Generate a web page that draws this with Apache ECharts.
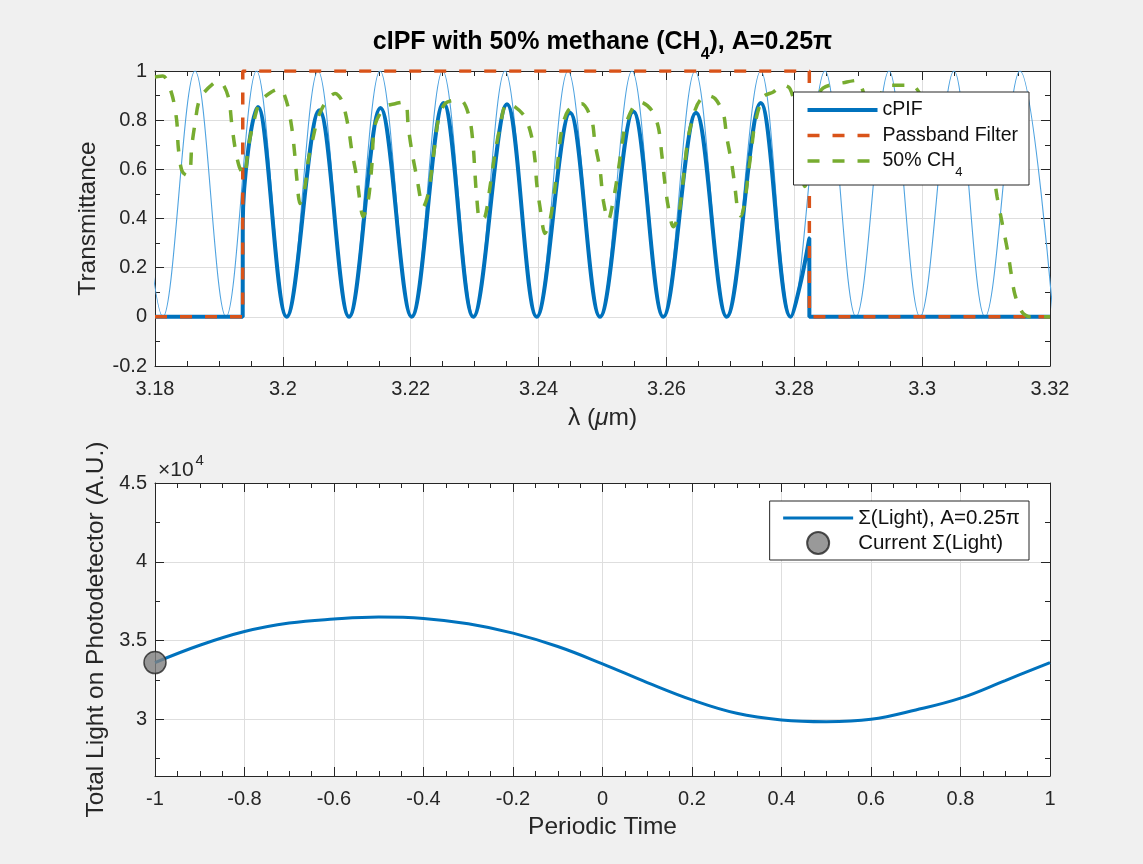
<!DOCTYPE html>
<html><head><meta charset="utf-8">
<script src="https://cdn.jsdelivr.net/npm/echarts@6/dist/echarts.min.js"></script>
<style>html,body{margin:0;padding:0;background:#f0f0f0}#c{width:1143px;height:864px}</style>
</head><body><div id="c"></div>
<script>
// ---------- Top plot data ----------
// thin interference comb (peaks/troughs)
const combLambda = [3.17666,3.18125,3.18626,3.19111,3.19588,3.20065,3.20550,3.21035,3.21520,3.22015,3.22500,3.22990,3.23475,3.23971,3.24460,3.24961,3.25461,3.25951,3.26447,3.26943,3.27475,3.27949,3.28480,3.28965,3.29482,3.29967,3.30498,3.30983,3.31531,3.32050];
const combT      = [1,0,1,0,1,0,1,0,1,0,1,0,1,0,1,0,1,0,1,0,1,0,1,0,1,0,1,0,1,0];
// cPIF (thick)
const cpifLambda = [3.18,3.19372,3.19373,3.19611,3.20060,3.20570,3.21035,3.21527,3.22015,3.22513,3.22979,3.23506,3.23971,3.24492,3.24961,3.25482,3.25951,3.26463,3.26943,3.27475,3.27944,3.28100,3.28235,3.28236,3.32];
const cpifT      = [0,0,0.38,0.854,0,0.84,0,0.85,0,0.87,0,0.865,0,0.83,0,0.835,0,0.83,0,0.87,0,0.14,0.32,0,0];
// passband filter
const passLambda = [3.18,3.19372,3.19373,3.28235,3.28236,3.32];
const passT      = [0,0,1,1,0,0];
// 50% CH4 transmittance
const ch4Lambda = [3.18000,3.18125,3.18261,3.18339,3.18364,3.18418,3.18496,3.18547,3.18574,3.18626,3.18704,3.18912,3.19017,3.19147,3.19200,3.19251,3.19319,3.19397,3.19459,3.19538,3.19642,3.19825,3.19955,3.20060,3.20138,3.20190,3.20216,3.20268,3.20346,3.20398,3.20476,3.20554,3.20686,3.20816,3.20920,3.21024,3.21077,3.21155,3.21258,3.21336,3.21390,3.21441,3.21598,3.21754,3.21911,3.21962,3.22015,3.22094,3.22197,3.22275,3.22328,3.22380,3.22431,3.22536,3.22693,3.22822,3.22927,3.22979,3.23005,3.23032,3.23084,3.23162,3.23240,3.23318,3.23396,3.23501,3.23631,3.23788,3.23892,3.23944,3.23971,3.24022,3.24100,3.24179,3.24257,3.24309,3.24362,3.24465,3.24675,3.24831,3.24883,3.24961,3.25012,3.25091,3.25169,3.25247,3.25300,3.25352,3.25482,3.25586,3.25769,3.25873,3.25926,3.25977,3.26029,3.26107,3.26185,3.26239,3.26290,3.26342,3.26447,3.26525,3.26630,3.26760,3.26890,3.26943,3.27021,3.27072,3.27119,3.27166,3.27229,3.27281,3.27334,3.27385,3.27515,3.27672,3.27828,3.27933,3.28011,3.28089,3.28167,3.28246,3.28324,3.28449,3.28820,3.28981,3.29184,3.29513,3.29836,3.30123,3.30592,3.30983,3.31171,3.31249,3.31343,3.31390,3.31452,3.31562,3.31687,3.32000];
const ch4T      = [0.976,0.98,0.908,0.80,0.69,0.596,0.576,0.59,0.69,0.786,0.888,0.949,0.955,0.894,0.786,0.69,0.61,0.576,0.69,0.786,0.874,0.915,0.928,0.874,0.772,0.65,0.569,0.461,0.528,0.637,0.732,0.813,0.881,0.908,0.881,0.772,0.678,0.569,0.407,0.474,0.61,0.78,0.854,0.867,0.874,0.772,0.678,0.569,0.447,0.502,0.596,0.705,0.80,0.867,0.881,0.874,0.80,0.69,0.583,0.488,0.393,0.407,0.528,0.664,0.772,0.867,0.854,0.813,0.732,0.637,0.542,0.447,0.339,0.393,0.528,0.65,0.759,0.84,0.867,0.80,0.705,0.60,0.474,0.393,0.474,0.596,0.69,0.772,0.854,0.874,0.84,0.772,0.664,0.542,0.447,0.366,0.407,0.502,0.624,0.732,0.84,0.881,0.901,0.888,0.827,0.732,0.624,0.528,0.43,0.41,0.474,0.583,0.69,0.786,0.894,0.915,0.942,0.928,0.85,0.62,0.53,0.62,0.85,0.93,0.955,0.962,0.86,0.942,0.942,0.86,0.86,0.78,0.49,0.385,0.26,0.18,0.09,0.02,0.0,0.0];

// ---------- Bottom plot data ----------
const periodicTime = [-1,-0.9,-0.8,-0.7,-0.6,-0.5,-0.4,-0.3,-0.2,-0.1,0,0.1,0.2,0.3,0.4,0.5,0.6,0.7,0.8,0.9,1];
const totalLight   = [33600,34700,35570,36110,36360,36490,36400,36060,35470,34620,33520,32330,31230,30380,29960,29850,30000,30590,31340,32460,33600];
const currentPoint = [-1, 33600];

const zip = (a, b) => a.map((v, i) => [v, b[i]]);

const FONT = 'Liberation Sans, Arial, Helvetica, sans-serif';
const AX = '#262626';
const GRIDC = '#dedede';
const TICKFS = 20;
const NAMEFS = 24.5;

function mkX(grid, min, max, interval, pos, minorSplit, extra) {
  return Object.assign({
    type: 'value', gridIndex: grid, min, max, interval, position: pos,
    axisLine: { show: true, onZero: false, lineStyle: { color: AX, width: 1 } },
    axisTick: { show: true, inside: true, length: 9, lineStyle: { color: AX } },
    minorTick: { show: true, splitNumber: minorSplit, length: 5, lineStyle: { color: AX } },
    axisLabel: { show: pos === 'bottom', fontSize: TICKFS, color: AX, margin: 13, fontFamily: FONT },
    splitLine: { show: pos === 'bottom', lineStyle: { color: GRIDC, width: 1 } },
    minorSplitLine: { show: false }
  }, extra || {});
}
function mkY(grid, min, max, pos, minorSplit, extra) {
  return Object.assign({
    type: 'value', gridIndex: grid, min, max, position: pos,
    axisLine: { show: true, onZero: false, lineStyle: { color: AX, width: 1 } },
    axisTick: { show: true, inside: true, length: 9, lineStyle: { color: AX } },
    minorTick: { show: true, splitNumber: minorSplit, length: 5, lineStyle: { color: AX } },
    axisLabel: { show: pos === 'left', fontSize: TICKFS, color: AX, margin: 8, fontFamily: FONT },
    splitLine: { show: pos === 'left', lineStyle: { color: GRIDC, width: 1 } }
  }, extra || {});
}

const chart = echarts.init(document.getElementById('c'), null, { renderer: 'canvas' });
const dash = [12, 13];
const noSym = { opacity: 0 };

const option = {
  backgroundColor: '#f0f0f0',
  animation: false,
  textStyle: { fontFamily: FONT },
  title: [{
    text: '×10{sup|4}', left: 158, top: 453, padding: 0,
    textStyle: { fontSize: 21, fontWeight: 'normal', color: AX, lineHeight: 34, fontFamily: FONT,
      rich: { sup: { fontSize: 15, verticalAlign: 'top', color: AX, fontFamily: FONT, padding: [0, 0, 0, 2] } } }
  }],
  grid: [
    { left: 155, top: 71, width: 895, height: 295, show: true, backgroundColor: '#ffffff', borderWidth: 0 },
    { left: 155, top: 483, width: 895, height: 293, show: true, backgroundColor: '#ffffff', borderWidth: 0 }
  ],
  xAxis: [
    mkX(0, 3.18, 3.32, 0.02, 'bottom', 4, {
      name: 'λ ({i|μ}m)', nameLocation: 'middle', nameGap: 39.5,
      nameTextStyle: { fontSize: NAMEFS, color: AX, fontFamily: FONT,
        rich: { i: { fontSize: NAMEFS, fontStyle: 'italic', color: AX, fontFamily: FONT } } }
    }),
    mkX(0, 3.18, 3.32, 0.02, 'top', 4, {
      name: 'cIPF with 50% methane (CH{sub|4}), A=0.25π', nameLocation: 'middle', nameGap: 8,
      nameTextStyle: { fontSize: 25, fontWeight: 'bold', color: '#000', lineHeight: 41, fontFamily: FONT,
        rich: { sub: { fontSize: 16, fontWeight: 'bold', verticalAlign: 'bottom', color: '#000', fontFamily: FONT } } }
    }),
    mkX(1, -1, 1, 0.2, 'bottom', 4, {
      name: 'Periodic Time', nameLocation: 'middle', nameGap: 38.5,
      nameTextStyle: { fontSize: NAMEFS, color: AX, fontFamily: FONT }
    }),
    mkX(1, -1, 1, 0.2, 'top', 4)
  ],
  yAxis: [
    mkY(0, -0.2, 1, 'left', 2, {
      interval: 0.2,
      name: 'Transmittance', nameLocation: 'middle', nameGap: 54.5,
      nameTextStyle: { fontSize: NAMEFS, color: AX, fontFamily: FONT }
    }),
    mkY(0, -0.2, 1, 'right', 2, { interval: 0.2 }),
    mkY(1, 26400, 45000, 'left', 2, {
      splitNumber: 4,
      axisLabel: { show: true, showMinLabel: false, fontSize: TICKFS, color: AX, margin: 8, fontFamily: FONT,
        formatter: v => String(+(v / 10000).toFixed(2)) },
      name: 'Total Light on Photodetector (A.U.)', nameLocation: 'middle', nameGap: 45.5,
      nameTextStyle: { fontSize: NAMEFS, color: AX, fontFamily: FONT }
    }),
    mkY(1, 26400, 45000, 'right', 2, { splitNumber: 4 })
  ],
  legend: [
    {
      data: [
        { name: 'cPIF', itemStyle: noSym, lineStyle: { width: 4 } },
        { name: 'Passband Filter', itemStyle: noSym, lineStyle: { width: 3.5 } },
        { name: '50% CH4', itemStyle: noSym, lineStyle: { width: 3.5 } }
      ],
      z: 20,
      orient: 'vertical', right: 114, top: 92,
      backgroundColor: '#ffffff', borderColor: AX, borderWidth: 1, borderRadius: 0,
      padding: [0, 11, 6, 12], itemWidth: 70, itemHeight: 19, itemGap: -10.5,
      selectedMode: false,
      formatter: n => n === '50% CH4' ? '50% CH{sub|4}' : n,
      textStyle: { fontSize: 19.5, color: '#111', lineHeight: 36, fontFamily: FONT,
        rich: { sub: { fontSize: 13, verticalAlign: 'bottom', color: '#111', fontFamily: FONT } } }
    },
    {
      data: [
        { name: 'Σ(Light), A=0.25π', itemStyle: noSym, lineStyle: { width: 3 } },
        { name: 'Current Σ(Light)' }
      ],
      z: 20,
      orient: 'vertical', right: 114, top: 501,
      backgroundColor: '#ffffff', borderColor: AX, borderWidth: 1, borderRadius: 0,
      padding: [5, 9, 5, 12], itemWidth: 70, itemHeight: 22, itemGap: 1,
      selectedMode: false,
      textStyle: { fontSize: 20.5, lineHeight: 24, color: '#111', fontFamily: FONT }
    }
  ],
  series: [
    { name: 'comb', type: 'line', xAxisIndex: 0, yAxisIndex: 0, data: zip(combLambda, combT),
      smooth: 0.36, symbol: 'none', silent: true, z: 2,
      lineStyle: { color: '#4fa3e0', width: 1.1 } },
    { name: 'cPIF', type: 'line', xAxisIndex: 0, yAxisIndex: 0, data: zip(cpifLambda, cpifT),
      smooth: 0.36, symbol: 'none', silent: true, z: 3,
      itemStyle: { color: '#0072BD' },
      lineStyle: { color: '#0072BD', width: 4 } },
    { name: 'Passband Filter', type: 'line', xAxisIndex: 0, yAxisIndex: 0, data: zip(passLambda, passT),
      symbol: 'none', silent: true, z: 4,
      itemStyle: { color: '#D95319' },
      lineStyle: { color: '#D95319', width: 3.5, type: dash } },
    { name: '50% CH4', type: 'line', xAxisIndex: 0, yAxisIndex: 0, data: zip(ch4Lambda, ch4T),
      smooth: 0.3, symbol: 'none', silent: true, z: 5,
      itemStyle: { color: '#77AC30' },
      lineStyle: { color: '#77AC30', width: 3.5, type: dash } },
    { name: 'Σ(Light), A=0.25π', type: 'line', xAxisIndex: 2, yAxisIndex: 2, data: zip(periodicTime, totalLight),
      smooth: 0.4, symbol: 'none', silent: true, z: 3,
      itemStyle: { color: '#0072BD' },
      lineStyle: { color: '#0072BD', width: 3 } },
    { name: 'Current Σ(Light)', type: 'scatter', xAxisIndex: 2, yAxisIndex: 2, data: [currentPoint],
      symbol: 'circle', symbolSize: 22, clip: false, silent: true, z: 10,
      itemStyle: { color: '#808080', borderColor: '#262626', borderWidth: 1.5 } }
  ]
};
chart.setOption(option);
</script></body></html>
